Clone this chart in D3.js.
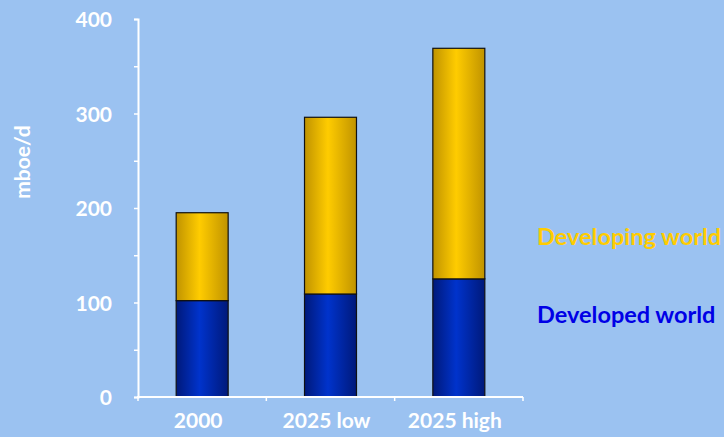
<!DOCTYPE html>
<html><head><meta charset="utf-8">
<script src="https://cdn.jsdelivr.net/npm/d3@7"></script>
<style>html,body{margin:0;padding:0;background:#9BC2F1;}svg{display:block;}</style>
</head><body>
<script>
const categories = ["2000", "2025 low", "2025 high"];
const developed = [102, 109, 125];
const developing = [93, 187, 244];
const seriesNames = ["Developed world", "Developing world"];
const yTicks = [0, 100, 200, 300, 400];

const W = 724, H = 437;
const svg = d3.select("body").append("svg").attr("width", W).attr("height", H);
const font = "'Lato','Open Sans',sans-serif";

const x = d3.scaleBand().domain(categories).range([138, 523]).paddingInner(0).paddingOuter(0);
const y = d3.scaleLinear().domain([0, 400]).range([397, 19]);

const defs = svg.append("defs");
function grad(id, edge, mid) {
  const g = defs.append("linearGradient").attr("id", id).attr("x1", "0%").attr("x2", "100%");
  g.append("stop").attr("offset", "0%").attr("stop-color", edge);
  g.append("stop").attr("offset", "45%").attr("stop-color", mid);
  g.append("stop").attr("offset", "100%").attr("stop-color", edge);
}
grad("gBlue", "#00197A", "#0033CC");
grad("gYellow", "#C09300", "#FFCC00");

const data = categories.map((c, i) => ({cat: c, dev: developed[i], ing: developing[i]}));
const bw = x.bandwidth() * 0.405;
const bx = d => x(d.cat) + (x.bandwidth() - bw) / 2;

svg.selectAll("rect.dev").data(data).enter().append("rect")
  .attr("x", bx).attr("width", bw)
  .attr("y", d => y(d.dev)).attr("height", d => y(0) - y(d.dev))
  .attr("fill", "url(#gBlue)").attr("stroke", "#111").attr("stroke-width", 1.2);
svg.selectAll("rect.ing").data(data).enter().append("rect")
  .attr("x", bx).attr("width", bw)
  .attr("y", d => y(d.dev + d.ing)).attr("height", d => y(d.dev) - y(d.dev + d.ing))
  .attr("fill", "url(#gYellow)").attr("stroke", "#111").attr("stroke-width", 1.2);

// y axis
const yAxis = d3.axisLeft(y).tickValues(d3.range(0, 401, 50)).tickSize(4).tickFormat("");
const ya = svg.append("g").attr("transform", "translate(138,0)").call(yAxis);
ya.select(".domain").attr("stroke", "#fff").attr("stroke-width", 2);
ya.selectAll(".tick line").attr("stroke", "#fff").attr("stroke-width", 1.5);
svg.selectAll("text.yl").data(yTicks).enter().append("text")
  .attr("x", 112).attr("y", d => y(d) + 8)
  .attr("text-anchor", "end").attr("fill", "#fff")
  .style("font-family", font).style("font-weight", "bold").style("font-size", "21px")
  .text(d => d);

// x axis
svg.append("line").attr("x1", 137).attr("x2", 523).attr("y1", 397).attr("y2", 397)
  .attr("stroke", "#fff").attr("stroke-width", 2);
const bounds = categories.map(c => x(c)).concat([x.range()[1]]);
svg.selectAll("line.xt").data(bounds).enter().append("line")
  .attr("x1", d => d).attr("x2", d => d).attr("y1", 397).attr("y2", 401)
  .attr("stroke", "#fff").attr("stroke-width", 1.5);
svg.selectAll("text.xl").data(categories).enter().append("text")
  .attr("x", d => x(d) + x.bandwidth() / 2 - 4).attr("y", 428)
  .attr("text-anchor", "middle").attr("fill", "#fff")
  .style("font-family", font).style("font-weight", "bold").style("font-size", "21px")
  .text(d => d);

// y title
svg.append("text").attr("transform", "translate(30,162) rotate(-90)")
  .attr("text-anchor", "middle").attr("fill", "#fff")
  .style("font-family", font).style("font-weight", "bold").style("font-size", "21px")
  .text("mboe/d");

// legend
const legColors = ["#0000E6", "#FFCC00"];
const legY = [323, 245];
seriesNames.forEach((n, i) => {
  svg.append("text").attr("x", 537).attr("y", legY[i]).attr("fill", legColors[i])
    .style("font-family", font).style("font-weight", "bold").style("font-size", "23.5px")
    .text(n);
});
</script>
</body></html>
